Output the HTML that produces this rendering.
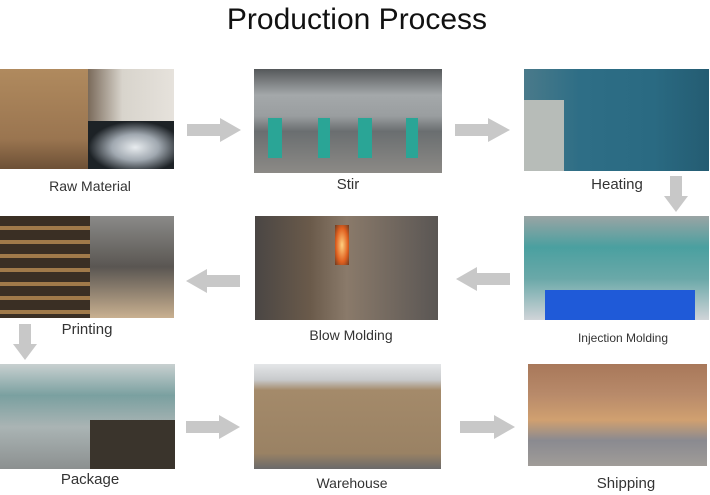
<!DOCTYPE html>
<html><head><meta charset="utf-8"><style>
body{margin:0;width:710px;height:495px;background:#fff;position:relative;overflow:hidden;font-family:"Liberation Sans",sans-serif}
.a{position:absolute}
.t{position:absolute;transform:translateX(-50%);color:#333;font-size:14px;white-space:nowrap;transform-origin:center}
</style></head><body>
<div class="a" style="left:0;top:3px;width:714px;text-align:center;font-size:30px;color:#111">Production Process</div>

<!-- row1 -->
<div class="a" style="left:0;top:69px;width:88px;height:100px;background:linear-gradient(#b08a5e,#9a7550 70%,#6d5036)"></div>
<div class="a" style="left:88px;top:69px;width:86px;height:52px;background:linear-gradient(90deg,#7a6a5a,#d8d4cc 40%,#e6e2dc)"></div>
<div class="a" style="left:88px;top:121px;width:86px;height:48px;background:radial-gradient(ellipse at 55% 55%,#e8ecef 0,#a0a8b0 35%,#1d2226 70%)"></div>
<div class="a" style="left:254px;top:69px;width:188px;height:104px;background:linear-gradient(#55585a,#a4a8aa 25%,#9a9ea0 45%,#6a6e70 60%,#8c8a86 100%)"></div>
<div class="a" style="left:268px;top:118px;width:14px;height:40px;background:#2aa596"></div>
<div class="a" style="left:318px;top:118px;width:12px;height:40px;background:#2aa596"></div>
<div class="a" style="left:358px;top:118px;width:14px;height:40px;background:#2aa596"></div>
<div class="a" style="left:406px;top:118px;width:12px;height:40px;background:#2aa596"></div>
<div class="a" style="left:524px;top:69px;width:185px;height:102px;background:linear-gradient(90deg,#4a7a8a,#2e6e86 30%,#2a6a82 70%,#245c72)"></div>
<div class="a" style="left:524px;top:100px;width:40px;height:71px;background:#b7bcb8"></div>

<!-- row2 -->
<div class="a" style="left:0;top:216px;width:90px;height:102px;background:repeating-linear-gradient(#3a2f24 0 10px,#a07a4a 10px 14px)"></div>
<div class="a" style="left:90px;top:216px;width:84px;height:102px;background:linear-gradient(#8a8a88,#5a5652 50%,#c9b090)"></div>
<div class="a" style="left:255px;top:216px;width:183px;height:104px;background:linear-gradient(90deg,#4a4644,#6a5a4a 30%,#8a7a6a 50%,#5a5654)"></div>
<div class="a" style="left:335px;top:225px;width:14px;height:40px;background:radial-gradient(#ffd080,#e06020 60%,#6a3a20)"></div>
<div class="a" style="left:524px;top:216px;width:185px;height:104px;background:linear-gradient(#9aa4a4,#4aa0a0 30%,#6aa8a8 60%,#d0d4d8)"></div>
<div class="a" style="left:545px;top:290px;width:150px;height:30px;background:#1f5ad8"></div>

<!-- row3 -->
<div class="a" style="left:0;top:364px;width:175px;height:105px;background:linear-gradient(#c8d0d0,#7aa0a0 30%,#aab4b4 60%,#8c9090)"></div>
<div class="a" style="left:90px;top:420px;width:85px;height:49px;background:#3a342c"></div>
<div class="a" style="left:254px;top:364px;width:187px;height:105px;background:linear-gradient(#e4e6e8,#c8cacc 15%,#a48a6a 25%,#9a8264 85%,#6a6a6a)"></div>
<div class="a" style="left:528px;top:364px;width:179px;height:102px;background:linear-gradient(#a8785a,#b88a6a 30%,#d0a070 55%,#8a8a90 75%,#a09c98)"></div>

<!-- arrows -->
<svg class="a" style="left:0;top:0" width="710" height="495">
<g fill="#c8c8c8">
<polygon points="187,124 220,124 220,118 241,130 220,142 220,136 187,136"/>
<polygon points="455,124 488,124 488,118 510,130 488,142 488,136 455,136"/>
<polygon points="670,176 682,176 682,196 688,196 676,212 664,196 670,196"/>
<polygon points="240,275 207,275 207,269 186,281 207,293 207,287 240,287"/>
<polygon points="510,273 477,273 477,267 456,279 477,291 477,285 510,285"/>
<polygon points="19,324 31,324 31,344 37,344 25,360 13,344 19,344"/>
<polygon points="186,421 219,421 219,415 240,427 219,439 219,433 186,433"/>
<polygon points="460,421 494,421 494,415 515,427 494,439 494,433 460,433"/>
</g></svg>

<div class="t" style="left:90px;top:178px">Raw Material</div>
<div class="t" style="left:348px;top:176px;font-size:15px">Stir</div>
<div class="t" style="left:617px;top:176px;font-size:15px">Heating</div>
<div class="t" style="left:87px;top:321px;font-size:15px">Printing</div>
<div class="t" style="left:351px;top:327px">Blow Molding</div>
<div class="t" style="left:623px;top:331px;font-size:12px">Injection Molding</div>
<div class="t" style="left:90px;top:471px;font-size:15px">Package</div>
<div class="t" style="left:352px;top:475px">Warehouse</div>
<div class="t" style="left:626px;top:475px;font-size:15px">Shipping</div>
</body></html>
